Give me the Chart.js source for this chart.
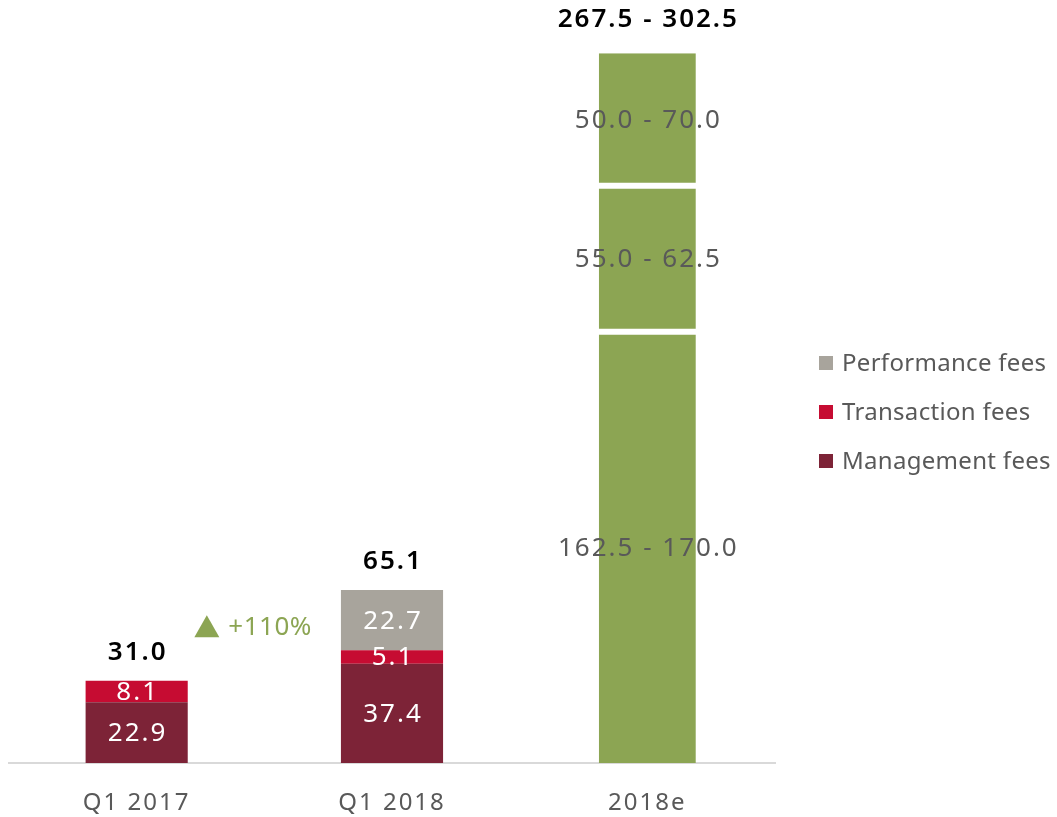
<!DOCTYPE html>
<html>
<head>
<meta charset="utf-8">
<script src="https://cdn.jsdelivr.net/npm/chart.js@4"></script>
<style>
  html, body { margin: 0; padding: 0; background: #fff; overflow: hidden; }
  canvas { display: block; }
</style>
</head>
<body>
<canvas id="feesChart" width="1057" height="817"></canvas>
<script>
// data
const categories = ['Q1 2017', 'Q1 2018', '2018e'];
const managementFees = [22.9, 37.4, null];
const transactionFees = [8.1, 5.1, null];
const performanceFees = [null, 22.7, null];
const estimateMgmt = [null, null, 162.5];
const estimateTrans = [null, null, 55.0];
const estimatePerf = [null, null, 50.0];
const estimateMgmtLabels = ['', '', '162.5 - 170.0'];
const estimateTransLabels = ['', '', '55.0 - 62.5'];
const estimatePerfLabels = ['', '', '50.0 - 70.0'];
const totalLabels = ['31.0', '65.1', '267.5 - 302.5'];
const growthLabel = '+110%';
const growthLevel = 51.5;

const FONT = '"Noto Sans", sans-serif';
const GREEN = '#8ca553';

// a bit of letter spacing like the original deck font
const spacingPlugin = {
  id: 'spacing',
  beforeLayout(chart) { chart.ctx.letterSpacing = '2px'; },
  beforeDraw(chart) { chart.ctx.letterSpacing = '2px'; }
};

// value labels inside segments + totals on top
const labelPlugin = {
  id: 'labels',
  afterDatasetsDraw(chart) {
    const ctx = chart.ctx;
    ctx.save();
    ctx.letterSpacing = '2px';
    ctx.textAlign = 'center';
    ctx.textBaseline = 'middle';
    chart.data.datasets.forEach((ds, di) => {
      const meta = chart.getDatasetMeta(di);
      meta.data.forEach((bar, i) => {
        if (ds.data[i] == null) return;
        const txt = ds.rangeLabels ? ds.rangeLabels[i] : ds.data[i].toFixed(1);
        ctx.font = '26px ' + FONT;
        ctx.fillStyle = ds.labelColor;
        ctx.fillText(txt, bar.x + 1, (bar.y + bar.base) / 2 + 1);
      });
    });
    // totals
    const xs = chart.scales.x;
    const ys = chart.scales.y;
    ctx.font = '600 26px ' + FONT;
    ctx.fillStyle = '#000';
    ctx.textBaseline = 'middle';
    categories.forEach((c, i) => {
      let top = 0;
      chart.data.datasets.forEach(ds => { top += ds.data[i] || 0; });
      ctx.fillText(totalLabels[i], xs.getPixelForValue(i) + 1, ys.getPixelForValue(top) - (i === 2 ? 34 : 28));
    });
    // growth marker
    const gx = (xs.getPixelForValue(0) + xs.getPixelForValue(1)) / 2;
    const gy = ys.getPixelForValue(growthLevel);
    ctx.fillStyle = GREEN;
    ctx.beginPath();
    ctx.moveTo(gx - 70, gy + 11);
    ctx.lineTo(gx - 45, gy + 11);
    ctx.lineTo(gx - 57.5, gy - 11);
    ctx.closePath();
    ctx.fill();
    ctx.letterSpacing = '0.5px';
    ctx.font = '26px ' + FONT;
    ctx.textAlign = 'left';
    ctx.fillText(growthLabel, gx - 36, gy + 1);
    ctx.restore();
  }
};

// legend on the right
const legendPlugin = {
  id: 'sideLegend',
  afterDraw(chart) {
    const ctx = chart.ctx;
    const items = chart.data.datasets.filter(d => d.inLegend).reverse();
    ctx.save();
    ctx.letterSpacing = '0.3px';
    ctx.font = '24px ' + FONT;
    ctx.textBaseline = 'middle';
    ctx.textAlign = 'left';
    items.forEach((d, k) => {
      const y = 363 + k * 49;
      ctx.fillStyle = d.backgroundColor;
      ctx.fillRect(819, y - 7, 14, 14);
      ctx.fillStyle = '#595959';
      ctx.fillText(d.label, 842, y + 1);
    });
    ctx.restore();
  }
};

new Chart(document.getElementById('feesChart'), {
  type: 'bar',
  data: {
    labels: categories,
    datasets: [
      { label: 'Management fees', data: managementFees, backgroundColor: '#7d2337', labelColor: '#fff', inLegend: true },
      { label: 'Transaction fees', data: transactionFees, backgroundColor: '#c60c32', labelColor: '#fff', inLegend: true },
      { label: 'Performance fees', data: performanceFees, backgroundColor: '#a8a49c', labelColor: '#fff', inLegend: true },
      { label: 'Management fees (e)', data: estimateMgmt, rangeLabels: estimateMgmtLabels, backgroundColor: GREEN,
        labelColor: '#595959', barPercentage: 0.38, borderColor: '#fff', borderWidth: { top: 3 } },
      { label: 'Transaction fees (e)', data: estimateTrans, rangeLabels: estimateTransLabels, backgroundColor: GREEN,
        labelColor: '#595959', barPercentage: 0.38, borderColor: '#fff', borderWidth: { top: 3, bottom: 3 }, borderSkipped: false },
      { label: 'Performance fees (e)', data: estimatePerf, rangeLabels: estimatePerfLabels, backgroundColor: GREEN,
        labelColor: '#595959', barPercentage: 0.38, borderColor: '#fff', borderWidth: { bottom: 3 }, borderSkipped: false }
    ]
  },
  options: {
    responsive: false,
    animation: false,
    layout: { padding: { top: 20, left: 9, right: 282, bottom: 0 } },
    datasets: { bar: { categoryPercentage: 1, barPercentage: 0.4 } },
    plugins: { legend: { display: false }, tooltip: { enabled: false } },
    scales: {
      x: {
        stacked: true,
        afterFit(scale) { scale.height = 54; },
        grid: { display: false, drawTicks: false },
        border: { display: true, color: '#d9d9d9', width: 2 },
        ticks: { padding: 26, color: '#595959', font: { family: FONT, size: 24, lineHeight: 1.2 } }
      },
      y: { stacked: true, display: false, min: 0, max: 280 }
    }
  },
  plugins: [spacingPlugin, labelPlugin, legendPlugin]
});
</script>
</body>
</html>
